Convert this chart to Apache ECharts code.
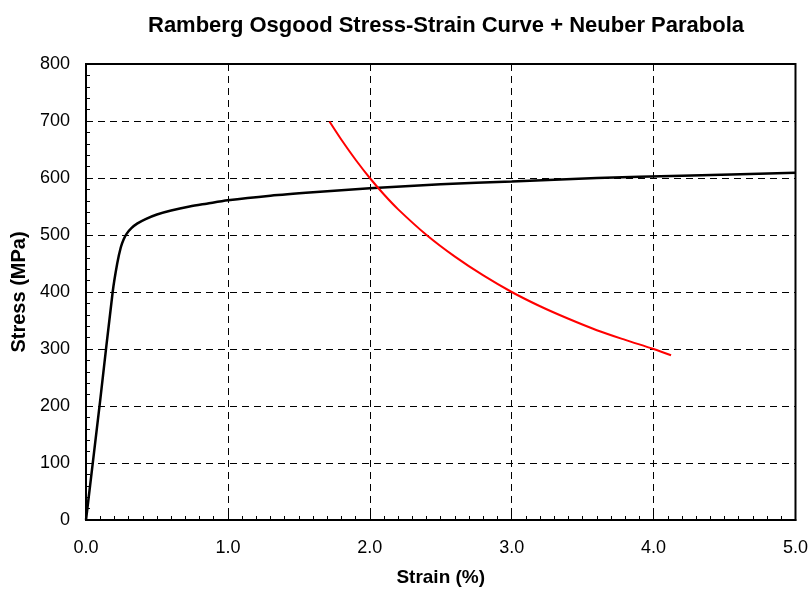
<!DOCTYPE html>
<html>
<head>
<meta charset="utf-8">
<script src="https://cdn.jsdelivr.net/npm/echarts@6/dist/echarts.min.js"></script>
<style>html,body{margin:0;padding:0;background:#fff;}#c{width:811px;height:592px;}</style>
</head>
<body>
<div id="c"></div>
<script>
// Ramberg-Osgood curve: strain (%) and stress (MPa)
const roStrain = [0, 0.1, 0.188, 0.22, 0.245, 0.265, 0.286, 0.32, 0.36, 0.42, 0.5, 0.6, 0.73, 0.85, 1.0, 1.3, 1.6, 2.0, 2.5, 3.0, 3.6, 4.2, 5.0];
const roStress = [0, 210, 400, 450, 478, 492, 502, 512, 520, 528, 536, 543, 550, 555, 561, 569, 575, 582, 589, 594, 600, 604, 609];
// Neuber parabola
const nbStrain = [1.716, 1.8, 1.9, 2.0, 2.1, 2.2, 2.4, 2.6, 2.8, 3.0, 3.2, 3.4, 3.6, 3.8, 4.0, 4.123];
const nbStress = [699, 667, 632, 600, 571, 545, 500, 462, 429, 400, 375, 353, 333, 316, 300, 289];
const xTicks = [0, 1, 2, 3, 4, 5];
const yTicks = [0, 100, 200, 300, 400, 500, 600, 700, 800];

const zip = (a, b) => a.map((v, i) => [v, b[i]]);
const chart = echarts.init(document.getElementById('c'), null, {renderer: 'canvas'});
const font = 'Liberation Sans, Arial, sans-serif';
chart.setOption({
  animation: false,
  backgroundColor: '#fff',
  title: {
    text: 'Ramberg Osgood Stress-Strain Curve + Neuber Parabola',
    left: 441, top: 10, textAlign: 'center',
    textStyle: {fontFamily: font, fontSize: 22, fontWeight: 'bold', color: '#000'}
  },
  grid: {left: 86, right: 14, top: 64, bottom: 72, show: true, borderColor: '#000', borderWidth: 2, backgroundColor: 'transparent'},
  xAxis: {
    type: 'value', min: xTicks[0], max: xTicks[xTicks.length - 1], interval: 1,
    name: 'Strain (%)', nameLocation: 'middle', nameGap: 48,
    nameTextStyle: {fontFamily: font, fontSize: 19, fontWeight: 'bold', color: '#000'},
    axisLine: {show: true, onZero: false, lineStyle: {color: '#000', width: 2}},
    axisTick: {show: true, inside: true, length: 5, lineStyle: {color: '#000'}},
    minorTick: {show: true, splitNumber: 10, length: 4, lineStyle: {color: '#000'}},
    axisLabel: {fontFamily: font, fontSize: 18, color: '#000', margin: 19, formatter: v => v.toFixed(1)},
    splitLine: {show: true, lineStyle: {color: '#000', width: 1, type: [7, 5]}}
  },
  yAxis: {
    type: 'value', min: yTicks[0], max: yTicks[yTicks.length - 1], interval: 100,
    name: 'Stress (MPa)', nameLocation: 'middle', nameGap: 56,
    nameTextStyle: {fontFamily: font, fontSize: 20, fontWeight: 'bold', color: '#000'},
    axisLine: {show: true, onZero: false, lineStyle: {color: '#000', width: 2}},
    axisTick: {show: true, inside: true, length: 5, lineStyle: {color: '#000'}},
    minorTick: {show: true, splitNumber: 5, length: 4, lineStyle: {color: '#000'}},
    axisLabel: {fontFamily: font, fontSize: 18, color: '#000', margin: 16},
    splitLine: {show: true, lineStyle: {color: '#000', width: 1, type: [7, 5]}}
  },
  series: [
    {type: 'line', data: zip(roStrain, roStress), smooth: 0.3, showSymbol: false, symbol: 'none',
     lineStyle: {color: '#000', width: 2.5}, z: 3},
    {type: 'line', data: zip(nbStrain, nbStress), smooth: 0.3, showSymbol: false, symbol: 'none',
     lineStyle: {color: '#ff0000', width: 2}, z: 4}
  ]
});
</script>
</body>
</html>
